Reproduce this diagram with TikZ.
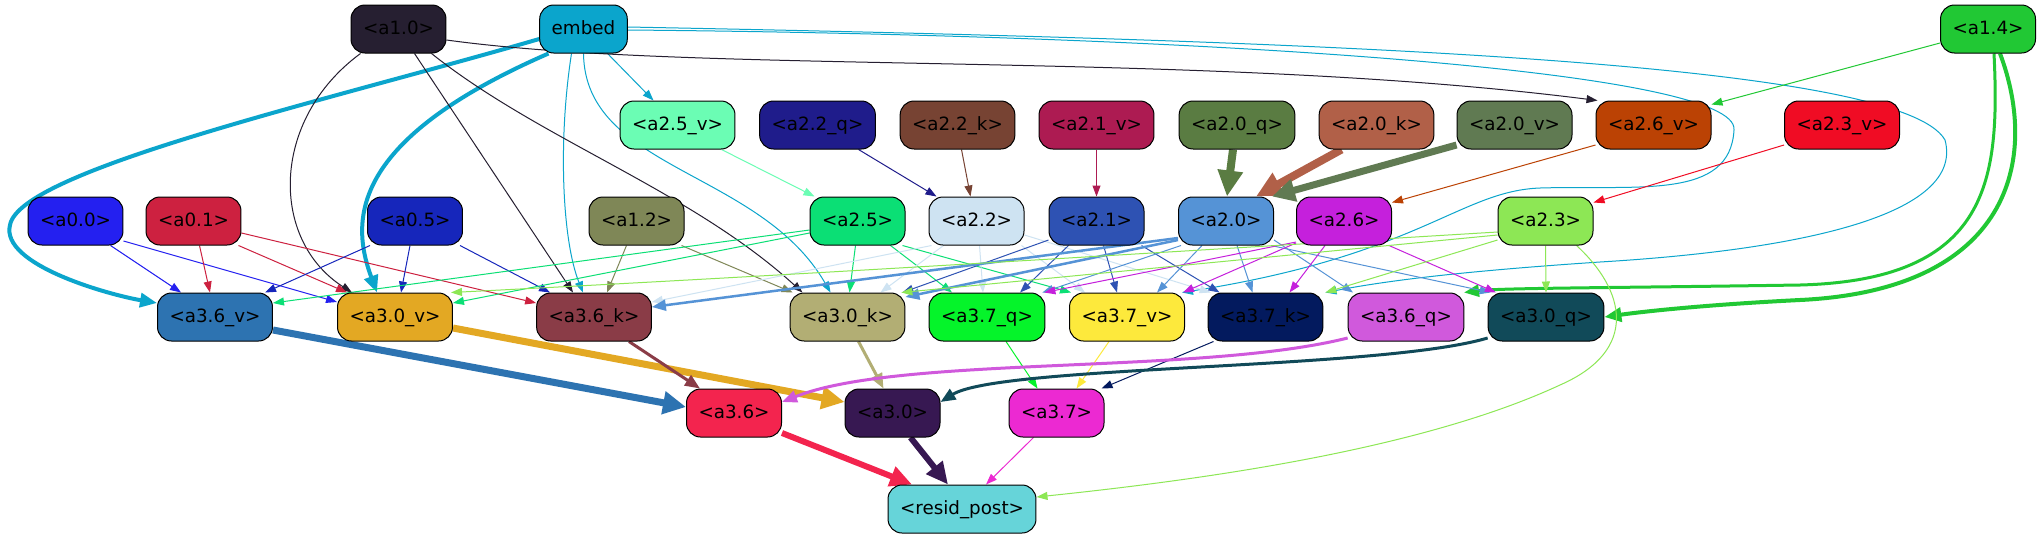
\documentclass[tikz,border=0pt]{standalone}
\usepackage{fontspec}
\setmainfont{DejaVu Sans}
\usetikzlibrary{arrows.meta}
\pgfdeclarelayer{bgl}
\pgfdeclarelayer{edges}
\pgfsetlayers{bgl,edges,main}
\definecolor{c10}{HTML}{261F31}
\definecolor{cemb}{HTML}{0BA5CC}
\definecolor{c14}{HTML}{21C834}
\definecolor{c25v}{HTML}{6BFDB4}
\definecolor{c22q}{HTML}{1F1C8B}
\definecolor{c22k}{HTML}{774333}
\definecolor{c21v}{HTML}{AD1B52}
\definecolor{c20q}{HTML}{5A7C42}
\definecolor{c20k}{HTML}{B16048}
\definecolor{c20v}{HTML}{607A52}
\definecolor{c26v}{HTML}{BB4204}
\definecolor{c23v}{HTML}{F00C24}
\definecolor{c00}{HTML}{2420F0}
\definecolor{c01}{HTML}{CD2140}
\definecolor{c05}{HTML}{1626BB}
\definecolor{c12}{HTML}{7F8757}
\definecolor{c25}{HTML}{0BDF75}
\definecolor{c22}{HTML}{CEE3F2}
\definecolor{c21}{HTML}{2E52B3}
\definecolor{c20}{HTML}{5593D6}
\definecolor{c26}{HTML}{C520DC}
\definecolor{c23}{HTML}{8DE755}
\definecolor{c36v}{HTML}{2D73B1}
\definecolor{c30v}{HTML}{E3A823}
\definecolor{c36k}{HTML}{8A3C47}
\definecolor{c30k}{HTML}{B2AE74}
\definecolor{c37q}{HTML}{05F42A}
\definecolor{c37v}{HTML}{FDE93C}
\definecolor{c37k}{HTML}{031A5E}
\definecolor{c36q}{HTML}{D059DC}
\definecolor{c30q}{HTML}{114A59}
\definecolor{c36}{HTML}{F3244E}
\definecolor{c30}{HTML}{371852}
\definecolor{c37}{HTML}{EC29D2}
\definecolor{cres}{HTML}{66D4D9}
\tikzset{
  nd/.style={draw=black, line width=1pt, rounded corners=14pt, minimum height=48pt,
    inner xsep=12pt, inner ysep=0pt, text height=13pt, text depth=3pt,
    font=\fontsize{18.3}{22}\selectfont, text=black},
  e1/.style={line width=1pt, -{Triangle[length=11pt,width=8pt]}},
  e25/.style={line width=2.5pt, -{Triangle[length=14pt,width=11pt]}},
  e3/.style={line width=3pt, -{Triangle[length=15pt,width=12pt]}},
  e4/.style={line width=4pt, -{Triangle[length=17pt,width=14pt]}},
  e6/.style={line width=6pt, -{Triangle[length=22pt,width=20pt]}},
  e7/.style={line width=7pt, -{Triangle[length=23pt,width=22pt]}},
  e8/.style={line width=8pt, -{Triangle[length=26pt,width=24pt]}}
}
\begin{document}
\begin{tikzpicture}[x=1pt,y=-1pt]
\begin{pgfonlayer}{bgl}
\fill[white] (0,0) rectangle (2041,539);
\end{pgfonlayer}
\useasboundingbox (0,0) rectangle (2041,539);
% row 1
\node[nd,fill=c10] (a10) at (398.5,29) {<a1.0>};
\node[nd,fill=cemb] (embed) at (583.5,29) {embed};
\node[nd,fill=c14] (a14) at (1988,29) {<a1.4>};
% row 2
\node[nd,fill=c25v] (a25v) at (677.5,125) {<a2.5\_v>};
\node[nd,fill=c22q] (a22q) at (817.5,125) {<a2.2\_q>};
\node[nd,fill=c22k] (a22k) at (957.5,125) {<a2.2\_k>};
\node[nd,fill=c21v] (a21v) at (1096.5,125) {<a2.1\_v>};
\node[nd,fill=c20q] (a20q) at (1237,125) {<a2.0\_q>};
\node[nd,fill=c20k] (a20k) at (1376.5,125) {<a2.0\_k>};
\node[nd,fill=c20v] (a20v) at (1514.5,125) {<a2.0\_v>};
\node[nd,fill=c26v] (a26v) at (1653.5,125) {<a2.6\_v>};
\node[nd,fill=c23v] (a23v) at (1842,125) {<a2.3\_v>};
% row 3
\node[nd,fill=c00] (a00) at (75.5,221) {<a0.0>};
\node[nd,fill=c01] (a01) at (193.5,221) {<a0.1>};
\node[nd,fill=c05] (a05) at (415,221) {<a0.5>};
\node[nd,fill=c12] (a12) at (636.5,221) {<a1.2>};
\node[nd,fill=c25] (a25) at (857.5,221) {<a2.5>};
\node[nd,fill=c22] (a22) at (976.5,221) {<a2.2>};
\node[nd,fill=c21] (a21) at (1096.5,221) {<a2.1>};
\node[nd,fill=c20] (a20) at (1226,221) {<a2.0>};
\node[nd,fill=c26] (a26) at (1344,221) {<a2.6>};
\node[nd,fill=c23] (a23) at (1545.5,221) {<a2.3>};
% row 4
\node[nd,fill=c36v] (a36v) at (215,317) {<a3.6\_v>};
\node[nd,fill=c30v] (a30v) at (395,317) {<a3.0\_v>};
\node[nd,fill=c36k] (a36k) at (594,317) {<a3.6\_k>};
\node[nd,fill=c30k] (a30k) at (847.5,317) {<a3.0\_k>};
\node[nd,fill=c37q] (a37q) at (987,317) {<a3.7\_q>};
\node[nd,fill=c37v] (a37v) at (1127,317) {<a3.7\_v>};
\node[nd,fill=c37k] (a37k) at (1265.5,317) {<a3.7\_k>};
\node[nd,fill=c36q] (a36q) at (1406,317) {<a3.6\_q>};
\node[nd,fill=c30q] (a30q) at (1546,317) {<a3.0\_q>};
% row 5
\node[nd,fill=c36] (a36) at (734,413) {<a3.6>};
\node[nd,fill=c30] (a30) at (892.5,413) {<a3.0>};
\node[nd,fill=c37] (a37) at (1056.5,413) {<a3.7>};
% row 6
\node[nd,fill=cres] (resid) at (962,509) {<resid\_post>};

\begin{pgfonlayer}{edges}
% embed
\draw[e4,cemb] ([yshift=-10pt]embed.west) .. controls (330,100) and (20,170) .. (10,225) .. controls (0,265) and (110,295) .. ([yshift=14pt]a36v.west);
\draw[e4,cemb] ([xshift=-35pt]embed.south) .. controls (350,140) and (350,220) .. ([xshift=-18pt]a30v.north);
\draw[e1,cemb] ([xshift=24pt]embed.south) -- ([xshift=-24pt]a25v.north);
\draw[e1,cemb] ([xshift=-12pt]embed.south) .. controls (558,140) and (562,240) .. ([xshift=-11pt]a36k.north);
\draw[e1,cemb] (embed.south) .. controls (585,170) and (760,170) .. ([xshift=-17pt]a30k.north);
\draw[e1,cemb] ([yshift=-1pt]embed.east) .. controls (1200,35) and (1740,70) .. (1734,130) .. controls (1730,200) and (1640,185) .. (1540,188) .. controls (1460,191) and (1420,255) .. ([xshift=55pt]a37v.north);
\draw[e1,cemb] ([yshift=2pt]embed.east) .. controls (1300,40) and (1900,60) .. (1945,140) .. controls (1965,215) and (1800,250) .. (1600,262) .. controls (1450,272) and (1380,282) .. ([xshift=60pt]a37k.north);
% a1.0
\draw[e1,c10] ([xshift=-38pt]a10.south) .. controls (270,120) and (270,240) .. ([xshift=-43pt]a30v.north);
\draw[e1,c10] ([xshift=16pt]a10.south) -- ([xshift=-21pt]a36k.north);
\draw[e1,c10] ([xshift=33pt]a10.south) .. controls (540,140) and (690,190) .. ([xshift=-45pt]a30k.north);
\draw[e1,c10] ([yshift=-11pt]a10.east) .. controls (700,75) and (1200,50) .. ([xshift=-56pt]a26v.north);
% a1.4
\draw[e1,c14] ([yshift=-14pt]a14.west) -- ([yshift=-4pt]a26v.north east);
\draw[e3,c14] ([xshift=6pt]a14.south) .. controls (2000,180) and (1990,280) .. (1800,285) .. controls (1600,288) and (1500,288) .. ([xshift=58pt]a36q.north);
\draw[e4,c14] ([xshift=12pt]a14.south) .. controls (2040,160) and (2010,290) .. (1800,300) .. controls (1700,305) and (1640,312) .. (a30q.east);
% row 2 -> row 3
\draw[e1,c25v] ([xshift=44pt]a25v.south) -- ([xshift=-43pt]a25.north);
\draw[e1,c22q] ([xshift=41pt]a22q.south) -- ([xshift=-40pt]a22.north);
\draw[e1,c22k] ([xshift=4pt]a22k.south) -- ([xshift=-6pt]a22.north);
\draw[e1,c21v] (a21v.south) -- (a21.north);
\draw[e8,c20q] ([xshift=-4pt]a20q.south) -- ([xshift=1pt]a20.north);
\draw[e8,c20k] ([xshift=-35pt]a20k.south) -- ([xshift=30pt]a20.north);
\draw[e7,c20v] ([yshift=-20pt]a20v.west) -- ([xshift=-2pt]a20.north east);
\draw[e1,c26v] ([yshift=-20pt]a26v.west) -- ([yshift=-6pt]a26.north east);
\draw[e1,c23v] ([yshift=-20pt]a23v.west) -- ([yshift=-6pt]a23.north east);
% a0.0
\draw[e1,c00] ([xshift=35pt]a00.south) -- ([xshift=-34pt]a36v.north);
\draw[e1,c00] ([yshift=-20pt]a00.east) -- ([yshift=15pt]a30v.west);
% a0.1
\draw[e1,c01] ([xshift=6pt]a01.south) -- ([xshift=-5pt]a36v.north);
\draw[e1,c01] ([xshift=-3pt]a01.south east) -- ([xshift=-48pt]a30v.north);
\draw[e1,c01] ([yshift=-12pt]a01.east) -- ([yshift=14pt]a36k.west);
% a0.5
\draw[e1,c05] ([xshift=3pt]a05.south west) -- ([xshift=50pt]a36v.north);
\draw[e1,c05] ([xshift=-5pt]a05.south) -- ([xshift=6pt]a30v.north);
\draw[e1,c05] ([xshift=45pt]a05.south) -- ([xshift=-44pt]a36k.north);
% a1.2
\draw[e1,c12] ([xshift=-10pt]a12.south) -- ([xshift=13pt]a36k.north);
\draw[e1,c12] ([xshift=-3pt]a12.south east) -- ([xshift=3pt]a30k.north west);
% a2.5
\draw[e1,c25] ([yshift=-9pt]a25.west) -- ([yshift=14pt]a36v.east);
\draw[e1,c25] ([yshift=-12pt]a25.west) -- ([yshift=14pt]a30v.east);
\draw[e1,c25] ([xshift=-2pt]a25.south) -- ([xshift=2pt]a30k.north);
\draw[e1,c25] ([xshift=33pt]a25.south) -- ([xshift=-35pt]a37q.north);
\draw[e1,c25] ([xshift=-3pt]a25.south east) -- ([xshift=2pt]a37v.north west);
% a2.2
\draw[e1,c22] ([xshift=3pt]a22.south west) -- ([yshift=15pt]a36k.east);
\draw[e1,c22] ([xshift=-33pt]a22.south) -- ([xshift=33pt]a30k.north);
\draw[e1,c22] ([xshift=3pt]a22.south) -- ([xshift=-4pt]a37q.north);
\draw[e1,c22] ([xshift=-3pt]a22.south east) -- ([xshift=-42pt]a37v.north);
\draw[e1,c22] ([yshift=-14pt]a22.east) -- ([xshift=3pt]a37k.north west);
% a2.1
\draw[e1,c21] ([yshift=-19pt]a21.west) -- ([xshift=-3pt]a30k.north east);
\draw[e1,c21] ([xshift=-28pt]a21.south) -- ([xshift=33pt]a37q.north);
\draw[e1,c21] ([xshift=7pt]a21.south) -- ([xshift=-10pt]a37v.north);
\draw[e1,c21] ([xshift=-3pt]a21.south east) -- ([xshift=-46pt]a37k.north);
% a2.0
\draw[e25,c20] ([yshift=-17pt]a20.west) -- ([yshift=10pt]a36k.east);
\draw[e25,c20] ([yshift=-19pt]a20.west) -- ([yshift=20pt]a30k.east);
\draw[e1,c20] ([xshift=3pt]a20.south west) -- ([xshift=-3pt]a37q.north east);
\draw[e1,c20] ([xshift=-24pt]a20.south) -- ([xshift=30pt]a37v.north);
\draw[e1,c20] ([xshift=11pt]a20.south) -- ([xshift=-13pt]a37k.north);
\draw[e1,c20] ([yshift=-19pt]a20.east) -- ([xshift=-53pt]a36q.north);
\draw[e1,c20] ([xshift=-3pt]a20.south east) -- ([xshift=3pt]a30q.north west);
% a2.6
\draw[e1,c26] ([yshift=-21pt]a26.west) -- ([xshift=-1pt]a37q.north east);
\draw[e1,c26] ([yshift=-22pt]a26.west) -- ([xshift=-2pt]a37v.north east);
\draw[e1,c26] ([xshift=-19pt]a26.south) -- ([xshift=24pt]a37k.north);
\draw[e1,c26] ([xshift=-3pt]a26.south east) -- ([xshift=-50pt]a30q.north);
% a2.3
\draw[e1,c23] ([yshift=-11pt]a23.west) .. controls (1200,250) and (800,275) .. ([xshift=-2pt]a30v.north east);
\draw[e1,c23] ([yshift=-14pt]a23.west) -- ([xshift=-4pt]a30k.north east);
\draw[e1,c23] ([yshift=-19pt]a23.west) -- ([xshift=2pt]a37k.north east);
\draw[e1,c23] (a23.south) -- (a30q.north);
\draw[e1,c23] ([xshift=31pt]a23.south) .. controls (1625,290) and (1640,350) .. (1560,385) .. controls (1420,450) and (1200,480) .. ([yshift=12pt]resid.east);
% row 4 -> row 5
\draw[e7,c36v] ([yshift=-13pt]a36v.east) -- ([yshift=6pt]a36.west);
\draw[e7,c30v] ([yshift=-11pt]a30v.east) -- ([yshift=11pt]a30.west);
\draw[e3,c36k] ([xshift=35pt]a36k.south) -- ([xshift=-34pt]a36.north);
\draw[e3,c30k] ([xshift=11pt]a30k.south) -- ([xshift=-9pt]a30.north);
\draw[e1,c37q] ([xshift=19pt]a37q.south) -- ([xshift=-19pt]a37.north);
\draw[e1,c37v] ([xshift=-18pt]a37v.south) -- ([xshift=20pt]a37.north);
\draw[e1,c37k] ([xshift=-52pt]a37k.south) -- ([xshift=-3pt]a37.north east);
\draw[e3,c36q] ([yshift=-21pt]a36q.west) .. controls (1200,375) and (900,355) .. ([yshift=11pt]a36.east);
\draw[e3,c30q] ([yshift=-21pt]a30q.west) .. controls (1380,370) and (1000,365) .. ([yshift=11pt]a30.east);
% row 5 -> resid
\draw[e6,c36] ([yshift=-20pt]a36.east) -- ([xshift=-50pt]resid.north);
\draw[e6,c30] ([xshift=18pt]a30.south) -- ([xshift=-14pt]resid.north);
\draw[e1,c37] ([xshift=-23pt]a37.south) -- ([xshift=24pt]resid.north);
\end{pgfonlayer}
\end{tikzpicture}
\end{document}
